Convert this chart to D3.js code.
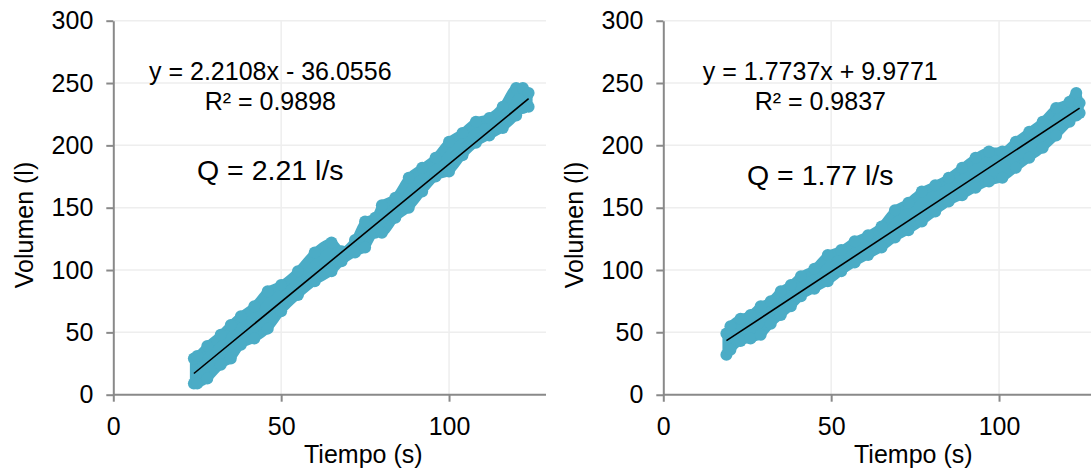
<!DOCTYPE html>
<meta charset="utf-8">
<style>
  body { margin: 0; background: #fff; }
  svg { font-family: Arial, "Liberation Sans", sans-serif; }
  .grid line { stroke: #eeeeee; stroke-width: 1.5px; }
  .axis path, .axis line { stroke: #898989; stroke-width: 2px; }
  .axis text { fill: #000; font-size: 25px; font-family: Arial, "Liberation Sans", sans-serif; }
</style>
<svg width="1091" height="471"></svg>
<script src="https://cdn.jsdelivr.net/npm/d3@7"></script>
<script>

// ---- data ----
var yTicks = [0, 50, 100, 150, 200, 250, 300];
var xTicks = [0, 50, 100];
var xGrid = [50, 100, 150];

// left panel: time (s) and lower / upper edge of the measured cloud (l)
var leftT  = [24, 25, 28, 32, 35, 38, 42, 46, 50, 55, 60, 65, 68, 72, 75, 78, 80, 84, 88, 92, 96, 100, 104, 108, 112, 116, 120, 122, 123.7];
var leftLo = [9, 9, 13, 24, 29, 40, 45, 53, 67, 80, 91, 99, 107, 114, 118, 130, 130, 142, 150, 163, 175, 179, 192, 202, 208, 214, 224, 230, 231];
var leftHi = [29, 31, 39, 48, 56, 63, 71, 83, 88, 99, 114, 122, 115, 124, 139, 142, 152, 158, 174, 182, 190, 203, 210, 219, 222, 231, 246, 246, 242];

// right panel
var rightT  = [18.8, 20, 23, 26, 29, 32, 35, 38, 41, 45, 49, 53, 57, 61, 65, 69, 73, 77, 81, 85, 89, 93, 97, 101, 105, 109, 113, 117, 121, 123, 124];
var rightLo = [32, 36, 43, 45, 48, 57, 64, 71, 79, 85, 91, 99, 106, 112, 118, 126, 132, 139, 147, 155, 160, 166, 171, 174, 182, 190, 198, 208, 219, 224, 226];
var rightHi = [49, 55, 61, 64, 71, 75, 83, 88, 95, 101, 112, 116, 123, 128, 135, 148, 154, 163, 168, 174, 182, 190, 195, 195, 203, 211, 219, 230, 235, 242, 234];

// trend lines (slope, intercept) and labels
var slopes = [2.2108, 1.7737];
var intercepts = [-36.0556, 9.9771];
var eqLabels = ["y = 2.2108x - 36.0556", "y = 1.7737x + 9.9771"];
var r2Labels = ["R\u00b2 = 0.9898", "R\u00b2 = 0.9837"];
var qLabels = ["Q = 2.21 l/s", "Q = 1.77 l/s"];

var svg = d3.select("svg");
var teal = "#4bacc6";

var panels = [
  { ox: 113.3, right: 546, t: leftT, lo: leftLo, hi: leftHi, qY: 180 },
  { ox: 663.3, right: 1091, t: rightT, lo: rightLo, hi: rightHi, qY: 185 }
];

panels.forEach(function(p, i) {
  var x = d3.scaleLinear().domain([0, 150]).range([p.ox, p.ox + 503.6]);
  var y = d3.scaleLinear().domain([0, 300]).range([394.7, 20.7]);

  var clipId = "clip" + i;
  svg.append("clipPath").attr("id", clipId)
    .append("rect")
      .attr("x", p.ox - 120).attr("y", 0)
      .attr("width", p.right - (p.ox - 120)).attr("height", 471);

  var g = svg.append("g").attr("clip-path", "url(#" + clipId + ")");

  // gridlines
  var grid = g.append("g").attr("class", "grid");
  grid.selectAll(".h").data(yTicks.slice(1)).enter().append("line")
    .attr("x1", p.ox).attr("x2", x(150))
    .attr("y1", function(d) { return y(d); })
    .attr("y2", function(d) { return y(d); });
  grid.selectAll(".v").data(xGrid).enter().append("line")
    .attr("y1", y(0)).attr("y2", y(300))
    .attr("x1", function(d) { return x(d); })
    .attr("x2", function(d) { return x(d); });

  // measurement cloud
  var band = d3.area()
    .x(function(d, k) { return x(p.t[k]); })
    .y0(function(d, k) { return y(p.lo[k]); })
    .y1(function(d, k) { return y(p.hi[k]); })
    .curve(d3.curveMonotoneX);
  g.append("path")
    .datum(p.t)
    .attr("d", band)
    .attr("fill", teal)
    .attr("stroke", teal)
    .attr("stroke-width", 8)
    .attr("stroke-linejoin", "round");

  var pts = [];
  p.t.forEach(function(t, k) {
    pts.push([t, p.lo[k]]);
    pts.push([t, p.hi[k]]);
  });
  g.selectAll(".pt").data(pts).enter().append("circle")
    .attr("cx", function(d) { return x(d[0]); })
    .attr("cy", function(d) { return y(d[1]); })
    .attr("r", 6)
    .attr("fill", teal);

  // trend line
  var t0 = p.t[0], t1 = p.t[p.t.length - 1];
  g.append("line")
    .attr("x1", x(t0)).attr("y1", y(slopes[i] * t0 + intercepts[i]))
    .attr("x2", x(t1)).attr("y2", y(slopes[i] * t1 + intercepts[i]))
    .attr("stroke", "#000")
    .attr("stroke-width", 1.6);

  // axes
  g.append("g")
    .attr("class", "axis")
    .attr("transform", "translate(" + p.ox + ",0)")
    .call(d3.axisLeft(y).tickValues(yTicks).tickSize(7).tickSizeOuter(0).tickPadding(13));
  var xAxis = g.append("g")
    .attr("class", "axis")
    .attr("transform", "translate(0," + y(0) + ")")
    .call(d3.axisBottom(x).tickValues(xTicks).tickSize(7).tickSizeOuter(0).tickPadding(16));
  xAxis.select(".domain").attr("d", "M" + p.ox + ",0H" + p.right);

  // titles
  g.append("text")
    .attr("x", p.ox + 250).attr("y", 463)
    .attr("text-anchor", "middle")
    .attr("font-size", 25)
    .text("Tiempo (s)");
  g.append("text")
    .attr("transform", "translate(" + (p.ox - 80) + ",225) rotate(-90)")
    .attr("text-anchor", "middle")
    .attr("font-size", 25)
    .text("Volumen (l)");

  // trend label
  g.append("text")
    .attr("x", p.ox + 157).attr("y", 80)
    .attr("text-anchor", "middle")
    .attr("font-size", 25)
    .text(eqLabels[i]);
  g.append("text")
    .attr("x", p.ox + 157).attr("y", 110)
    .attr("text-anchor", "middle")
    .attr("font-size", 25)
    .text(r2Labels[i]);
  g.append("text")
    .attr("x", p.ox + 157).attr("y", p.qY)
    .attr("text-anchor", "middle")
    .attr("font-size", 28.5)
    .text(qLabels[i]);
});

</script>
